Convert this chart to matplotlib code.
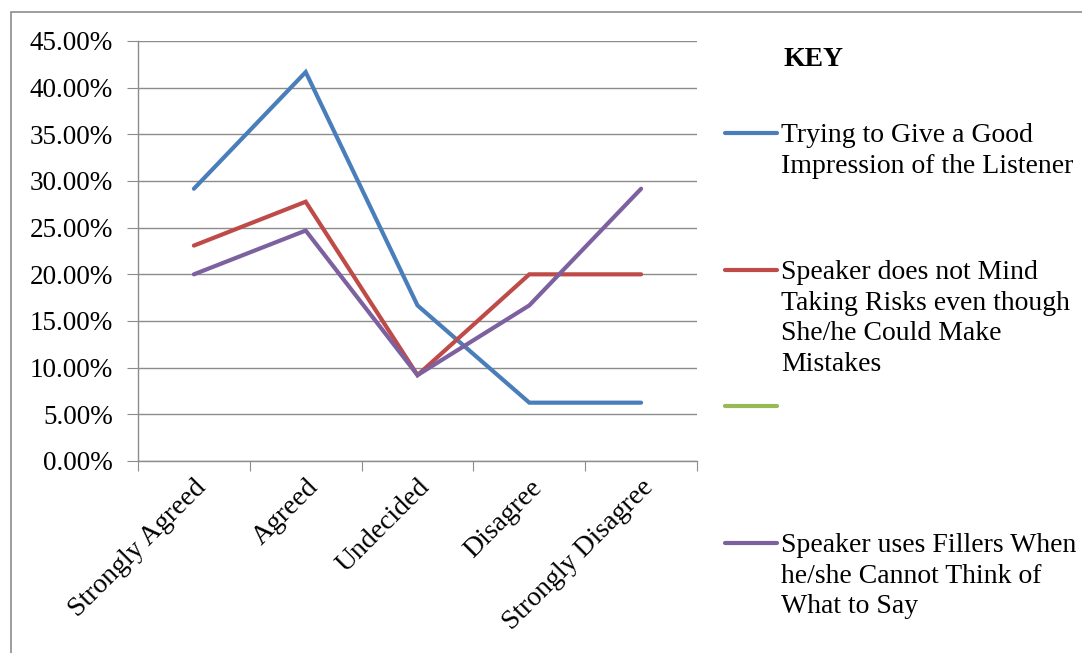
import numpy as np
import matplotlib.pyplot as plt
from matplotlib.lines import Line2D
from matplotlib.patches import Rectangle
from matplotlib.ticker import FuncFormatter, MultipleLocator

plt.rcParams['font.family'] = ['Liberation Serif', 'DejaVu Serif']

categories = ["Strongly Agreed", "Agreed", "Undecided", "Disagree", "Strongly Disagree"]

good_impression = [29.17, 41.67, 16.67, 6.25, 6.25]
taking_risks = [23.08, 27.78, 9.20, 20.00, 20.00]
unnamed_series = []
uses_fillers = [20.00, 24.69, 9.20, 16.67, 29.17]

series_labels = [
    "Trying to Give a Good\nImpression of the Listener",
    "Speaker does not Mind\nTaking Risks even though\nShe/he Could Make\nMistakes",
    "",
    "Speaker uses Fillers When\nhe/she Cannot Think of\nWhat to Say",
]
colors = ["#4A7EBB", "#BE4B48", "#98B954", "#7D60A0"]

W, H = 1082, 653
fig = plt.figure(figsize=(W / 100, H / 100), dpi=100)

# outer chart border
fig.add_artist(Rectangle((11 / W, -0.01), 1.05, 1 - 12 / H + 0.01, transform=fig.transFigure,
                         fill=False, edgecolor="#8c8c8c", linewidth=1.2))

ax = fig.add_axes([138 / W, 1 - 461 / H, (697 - 138) / W, (461 - 41) / H])

x = np.arange(len(categories))
all_series = [good_impression, taking_risks, unnamed_series, uses_fillers]
for vals, col in zip(all_series, colors):
    ax.plot(x[:len(vals)], vals, color=col, linewidth=3.0, solid_capstyle="round",
            solid_joinstyle="miter")

ax.set_xlim(-0.5, len(categories) - 0.5)
ax.set_ylim(0, 45)
ax.yaxis.set_major_locator(MultipleLocator(5))
ax.yaxis.set_major_formatter(FuncFormatter(lambda v, p: f"{v:.2f}%"))
ax.grid(axis="y", color="#8c8c8c", linewidth=1.0)
ax.set_axisbelow(True)

for s in ["top", "right"]:
    ax.spines[s].set_visible(False)
for s in ["left", "bottom"]:
    ax.spines[s].set_color("#8c8c8c")
    ax.spines[s].set_linewidth(1.0)

ax.tick_params(axis="y", length=8, color="#8c8c8c", labelsize=19.5, pad=10)
ax.set_xticks(np.arange(-0.5, len(categories), 1.0))
ax.set_xticklabels([])
ax.set_xticks(x, minor=True)
ax.set_xticklabels(categories, minor=True, rotation=45, ha="right", rotation_mode="anchor",
                   fontsize=20)
ax.tick_params(axis="x", which="major", length=7, color="#8c8c8c", direction="out")
ax.tick_params(axis="x", which="minor", length=0, pad=10)

# key on the right
fig.text(783 / W, 1 - 60 / H, "KEY", fontsize=20, fontweight="bold", va="center", ha="left")
entry_y = [133, 270, 406, 543]
for ypos, col, lab in zip(entry_y, colors, series_labels):
    yf = 1 - ypos / H
    fig.add_artist(Line2D([725 / W, 777 / W], [yf, yf], transform=fig.transFigure,
                          color=col, linewidth=3.0, solid_capstyle="round"))
    if lab:
        fig.text(781 / W, yf + 10 / H, lab, fontsize=20, va="top", ha="left", linespacing=1.3)

plt.savefig("out.png", dpi=100)
